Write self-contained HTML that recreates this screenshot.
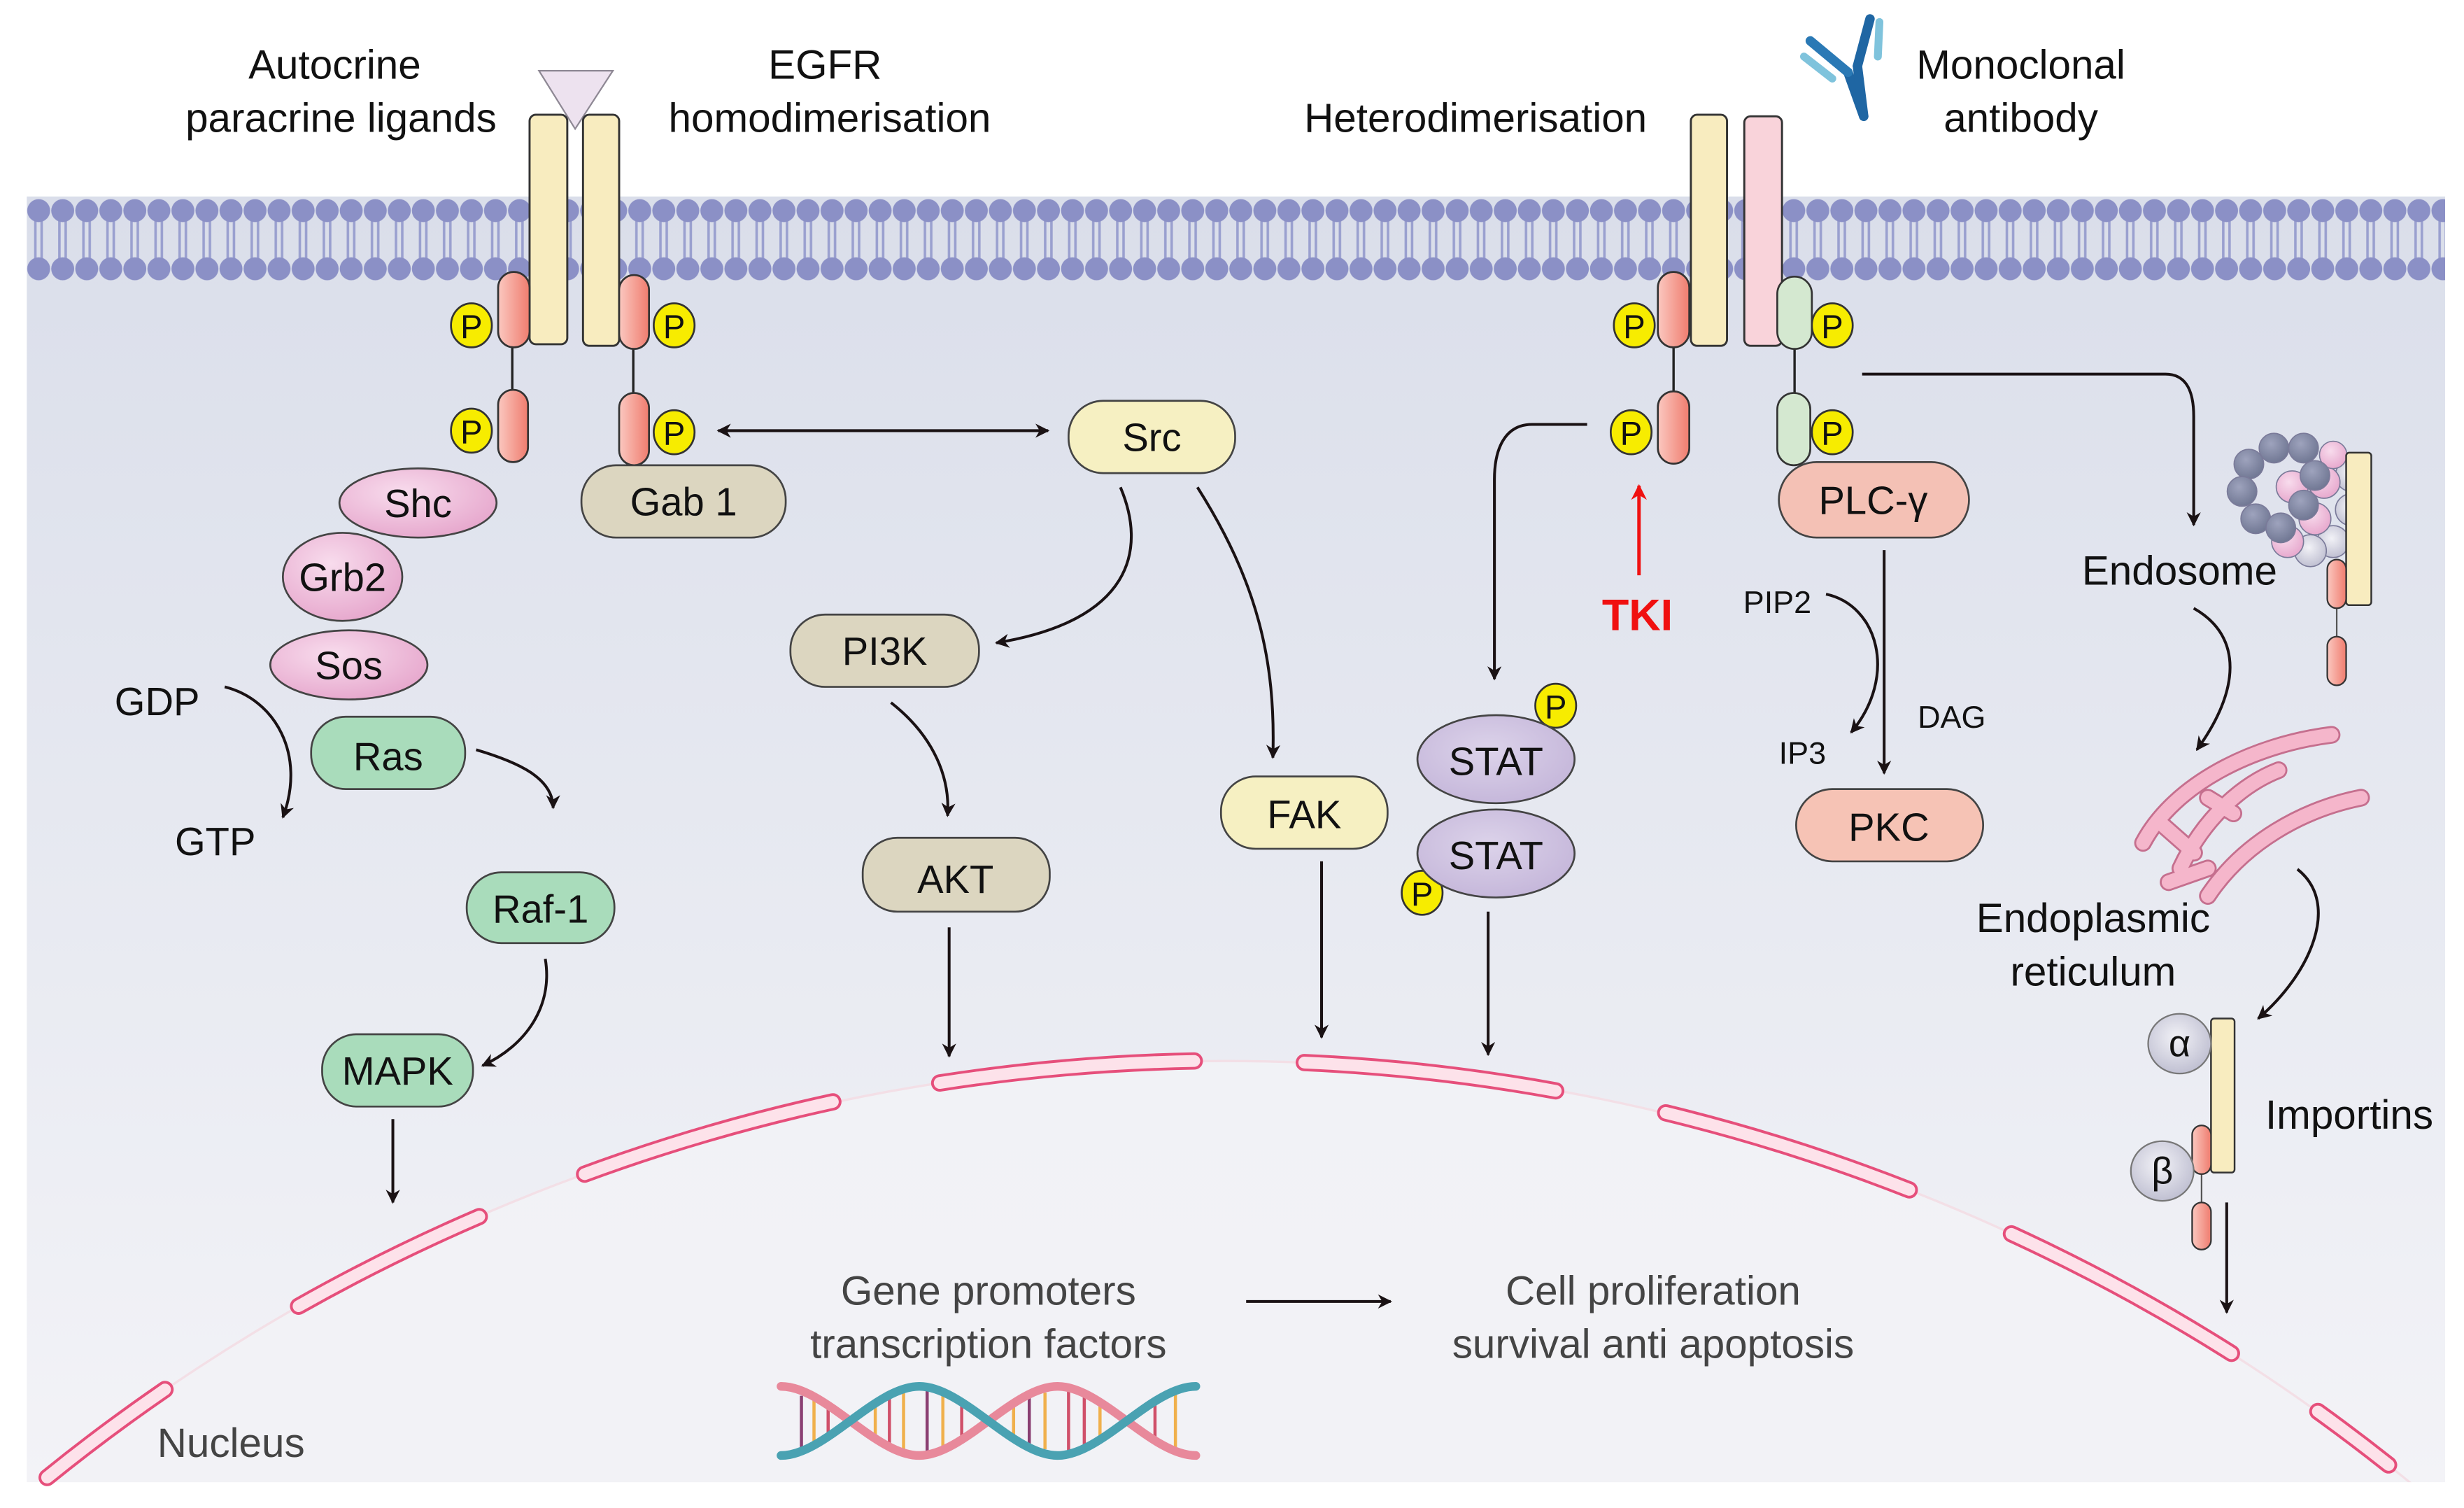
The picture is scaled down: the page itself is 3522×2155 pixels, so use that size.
<!DOCTYPE html>
<html><head><meta charset="utf-8"><style>
html,body{margin:0;padding:0;background:#fff;overflow:hidden;width:3522px;height:2155px;}
svg{display:block;}
text{font-family:"Liberation Sans",Arial,sans-serif;}
</style></head><body>
<svg width="3522" height="2155" viewBox="0 0 1568 959.4" preserveAspectRatio="none" xmlns="http://www.w3.org/2000/svg">
<defs>
<linearGradient id="cell" x1="0" y1="0" x2="0" y2="1">
<stop offset="0" stop-color="#dadeea"/><stop offset="0.6" stop-color="#e9ebf2"/><stop offset="1" stop-color="#f3f3f7"/></linearGradient>
<linearGradient id="nuc" x1="0" y1="0" x2="0" y2="1">
<stop offset="0" stop-color="#f1f2f6"/><stop offset="1" stop-color="#fcf3f7"/></linearGradient>
<linearGradient id="red" x1="0" y1="0" x2="1" y2="0">
<stop offset="0" stop-color="#fbc8c0"/><stop offset="1" stop-color="#ef7c6e"/></linearGradient>
<radialGradient id="pinkball" cx="0.4" cy="0.35" r="0.7">
<stop offset="0" stop-color="#f8dced"/><stop offset="1" stop-color="#e6a6cc"/></radialGradient>
<radialGradient id="stat" cx="0.45" cy="0.4" r="0.7">
<stop offset="0" stop-color="#dcd3ea"/><stop offset="1" stop-color="#c2b3d8"/></radialGradient>
<radialGradient id="imp" cx="0.45" cy="0.4" r="0.7">
<stop offset="0" stop-color="#f2f2f7"/><stop offset="1" stop-color="#b8b8cc"/></radialGradient>
<radialGradient id="gball" cx="0.4" cy="0.35" r="0.7">
<stop offset="0" stop-color="#9ea3bd"/><stop offset="1" stop-color="#6e7591"/></radialGradient>
<pattern id="mem" x="17" y="0" width="15.3" height="200" patternUnits="userSpaceOnUse">
<line x1="5.5" y1="140" x2="5.5" y2="166" stroke="#9aa0cf" stroke-width="1.6"/>
<line x1="9.5" y1="140" x2="9.5" y2="166" stroke="#9aa0cf" stroke-width="1.6"/>
<circle cx="7.6" cy="134" r="7.3" fill="#8b90c6"/>
<circle cx="7.6" cy="171" r="7.3" fill="#8b90c6"/>
</pattern>
<marker id="ah" viewBox="0 0 10 10" refX="9" refY="5" markerWidth="9" markerHeight="9" markerUnits="userSpaceOnUse" orient="auto">
<path d="M0,0 L10,5 L0,10 L3,5 Z" fill="#1a1214"/></marker>
<marker id="ahs" viewBox="0 0 10 10" refX="1" refY="5" markerWidth="9" markerHeight="9" markerUnits="userSpaceOnUse" orient="auto">
<path d="M10,0 L0,5 L10,10 L7,5 Z" fill="#1a1214"/></marker>
<marker id="ahr" viewBox="0 0 10 10" refX="9" refY="5" markerWidth="10" markerHeight="10" markerUnits="userSpaceOnUse" orient="auto">
<path d="M0,0 L10,5 L0,10 L3,5 Z" fill="#f01010"/></marker>
</defs>

<rect x="17" y="125" width="1539" height="818" fill="url(#cell)"/>
<rect x="17" y="122" width="1539" height="58" fill="url(#mem)"/>
<circle cx="780" cy="1868" r="1193" fill="url(#nuc)" stroke="#f3dfe6" stroke-width="1.5"/>
<rect x="0" y="943" width="1568" height="20" fill="#fff"/>
<rect x="0" y="0" width="17" height="960" fill="#fff"/>
<rect x="1556" y="0" width="12" height="960" fill="#fff"/>
<g fill="none" stroke-linecap="round">
<g stroke="#e64f7b" stroke-width="11">
<path d="M30 940 A1193 1193 0 0 1 105 884"/>
<path d="M190 831 A1193 1193 0 0 1 305 774"/>
<path d="M372 747 A1193 1193 0 0 1 530 701"/>
<path d="M598 689 A1193 1193 0 0 1 760 675"/>
<path d="M830 676 A1193 1193 0 0 1 990 694"/>
<path d="M1060 708 A1193 1193 0 0 1 1215 757"/>
<path d="M1280 785 A1193 1193 0 0 1 1420 861"/>
<path d="M1475 898 A1193 1193 0 0 1 1520 932"/>
</g>
<g stroke="#fde2ea" stroke-width="7.5">
<path d="M30 940 A1193 1193 0 0 1 105 884"/>
<path d="M190 831 A1193 1193 0 0 1 305 774"/>
<path d="M372 747 A1193 1193 0 0 1 530 701"/>
<path d="M598 689 A1193 1193 0 0 1 760 675"/>
<path d="M830 676 A1193 1193 0 0 1 990 694"/>
<path d="M1060 708 A1193 1193 0 0 1 1215 757"/>
<path d="M1280 785 A1193 1193 0 0 1 1420 861"/>
<path d="M1475 898 A1193 1193 0 0 1 1520 932"/>
</g></g>

<g font-size="26" fill="#111" text-anchor="middle">
<text x="213" y="50">Autocrine</text>
<text x="217" y="84">paracrine ligands</text>
<text x="525" y="50">EGFR</text>
<text x="528" y="84">homodimerisation</text>
<text x="939" y="84">Heterodimerisation</text>
<text x="1286" y="50">Monoclonal</text>
<text x="1286" y="84">antibody</text>
</g>

<!-- antibody -->
<g stroke-linecap="round">
<line x1="1186" y1="74" x2="1176" y2="46" stroke="#1f66a3" stroke-width="6"/>
<line x1="1176" y1="46" x2="1152" y2="26" stroke="#2a79b5" stroke-width="6"/>
<line x1="1186" y1="74" x2="1182" y2="42" stroke="#1f66a3" stroke-width="6"/>
<line x1="1182" y1="42" x2="1190" y2="12" stroke="#1f66a3" stroke-width="6"/>
<line x1="1166" y1="50" x2="1148" y2="36" stroke="#7fc3dc" stroke-width="5"/>
<line x1="1195" y1="36" x2="1196" y2="14" stroke="#7fc3dc" stroke-width="5"/>
</g>

<polygon points="343,45 390,45 366,82" fill="#ede2ef" stroke="#8e8894" stroke-width="1"/>
<rect x="337" y="73" width="24" height="146" rx="4" fill="#f8ecbf" stroke="#333" stroke-width="1.3"/>
<rect x="371" y="73" width="23" height="147" rx="4" fill="#f8ecbf" stroke="#333" stroke-width="1.3"/>
<line x1="326" y1="220" x2="326" y2="250" stroke="#222" stroke-width="1.5"/>
<line x1="403" y1="222" x2="403" y2="252" stroke="#222" stroke-width="1.5"/>
<rect x="317" y="173" width="20" height="48" rx="10" fill="url(#red)" stroke="#333" stroke-width="1.2"/>
<rect x="317" y="248" width="19" height="46" rx="9.5" fill="url(#red)" stroke="#333" stroke-width="1.2"/>
<rect x="394" y="175" width="19" height="47" rx="9.5" fill="url(#red)" stroke="#333" stroke-width="1.2"/>
<rect x="394" y="250" width="19" height="46" rx="9.5" fill="url(#red)" stroke="#333" stroke-width="1.2"/>

<rect x="1076" y="73" width="23" height="147" rx="4" fill="#f8ecbf" stroke="#333" stroke-width="1.3"/>
<rect x="1110" y="74" width="24" height="146" rx="4" fill="#f9d3da" stroke="#333" stroke-width="1.3"/>
<line x1="1065" y1="220" x2="1065" y2="250" stroke="#222" stroke-width="1.5"/>
<line x1="1142" y1="222" x2="1142" y2="252" stroke="#222" stroke-width="1.5"/>
<rect x="1055" y="173" width="20" height="48" rx="10" fill="url(#red)" stroke="#333" stroke-width="1.2"/>
<rect x="1055" y="249" width="20" height="46" rx="10" fill="url(#red)" stroke="#333" stroke-width="1.2"/>
<rect x="1131" y="176" width="22" height="46" rx="11" fill="#d4e8d0" stroke="#333" stroke-width="1.2"/>
<rect x="1131" y="250" width="21" height="46" rx="10.5" fill="#d4e8d0" stroke="#333" stroke-width="1.2"/>

<g fill="#f7ec00" stroke="#333" stroke-width="1.2">
<ellipse cx="300" cy="207" rx="13" ry="14"/><ellipse cx="300" cy="274" rx="13" ry="14"/>
<ellipse cx="429" cy="207" rx="13" ry="14"/><ellipse cx="429" cy="275" rx="13" ry="14"/>
<ellipse cx="1040" cy="207" rx="13" ry="14"/><ellipse cx="1038" cy="275" rx="13" ry="14"/>
<ellipse cx="1166" cy="207" rx="13" ry="14"/><ellipse cx="1166" cy="275" rx="13" ry="14"/>
<ellipse cx="990" cy="449" rx="13" ry="14"/><ellipse cx="905" cy="568" rx="13" ry="14"/>
</g>
<g font-size="21" fill="#111" text-anchor="middle">
<text x="300" y="215">P</text><text x="300" y="282">P</text>
<text x="429" y="215">P</text><text x="429" y="283">P</text>
<text x="1040" y="215">P</text><text x="1038" y="283">P</text>
<text x="1166" y="215">P</text><text x="1166" y="283">P</text>
<text x="990" y="457">P</text><text x="905" y="576">P</text>
</g>

<g stroke="#444" stroke-width="1.2">
<rect x="370" y="296" width="130" height="46" rx="22" fill="#dcd6c0"/>
<rect x="680" y="255" width="106" height="46" rx="22" fill="#f6f0c2"/>
<ellipse cx="266" cy="320" rx="50" ry="22" fill="url(#pinkball)"/>
<ellipse cx="218" cy="367" rx="38" ry="28" fill="url(#pinkball)"/>
<ellipse cx="222" cy="423" rx="50" ry="22" fill="url(#pinkball)"/>
<rect x="198" y="456" width="98" height="46" rx="22" fill="#a9dcbb"/>
<rect x="297" y="555" width="94" height="45" rx="22" fill="#a9dcbb"/>
<rect x="205" y="658" width="96" height="46" rx="22" fill="#a9dcbb"/>
<rect x="503" y="391" width="120" height="46" rx="22" fill="#dcd6c0"/>
<rect x="549" y="533" width="119" height="47" rx="22" fill="#dcd6c0"/>
<rect x="777" y="494" width="106" height="46" rx="22" fill="#f6f0c2"/>
<ellipse cx="952" cy="483" rx="50" ry="28" fill="url(#stat)"/>
<ellipse cx="952" cy="543" rx="50" ry="28" fill="url(#stat)"/>
<rect x="1132" y="294" width="121" height="48" rx="24" fill="#f4c1b5"/>
<rect x="1143" y="502" width="119" height="46" rx="23" fill="#f6c3b5"/>
</g>
<g font-size="25" fill="#111" text-anchor="middle">
<text x="435" y="328">Gab 1</text>
<text x="733" y="287">Src</text>
<text x="266" y="329">Shc</text>
<text x="218" y="376">Grb2</text>
<text x="222" y="432">Sos</text>
<text x="247" y="490">Ras</text>
<text x="344" y="587">Raf-1</text>
<text x="253" y="690">MAPK</text>
<text x="563" y="423">PI3K</text>
<text x="608" y="568">AKT</text>
<text x="830" y="527">FAK</text>
<text x="952" y="493">STAT</text>
<text x="952" y="553">STAT</text>
<text x="1192" y="327">PLC-γ</text>
<text x="1202" y="535">PKC</text>
<text x="100" y="455">GDP</text>
<text x="137" y="544">GTP</text>
</g>
<g font-size="20" fill="#111" text-anchor="middle">
<text x="1131" y="390">PIP2</text>
<text x="1147" y="486">IP3</text>
<text x="1242" y="463">DAG</text>
</g>
<text x="1042" y="401" font-size="28" font-weight="bold" fill="#f01010" text-anchor="middle">TKI</text>

<g fill="none" stroke="#1a1214" stroke-width="1.8">
<line x1="457" y1="274" x2="667" y2="274" marker-start="url(#ahs)" marker-end="url(#ah)"/>
<path d="M143 437 C175 445 195 480 180 520" marker-end="url(#ah)"/>
<path d="M303 477 C330 485 352 495 352 514" marker-end="url(#ah)"/>
<path d="M347 610 C352 640 335 665 307 678" marker-end="url(#ah)"/>
<line x1="250" y1="712" x2="250" y2="765" marker-end="url(#ah)"/>
<path d="M713 310 C730 350 720 395 634 409" marker-end="url(#ah)"/>
<path d="M567 447 C590 465 605 490 603 519" marker-end="url(#ah)"/>
<line x1="604" y1="590" x2="604" y2="672" marker-end="url(#ah)"/>
<path d="M762 310 C800 370 812 420 810 482" marker-end="url(#ah)"/>
<line x1="841" y1="548" x2="841" y2="660" marker-end="url(#ah)"/>
<path d="M1010 270 L975 270 C958 270 951 285 951 305 L951 432" marker-end="url(#ah)"/>
<line x1="947" y1="580" x2="947" y2="671" marker-end="url(#ah)"/>
<line x1="1199" y1="350" x2="1199" y2="492" marker-end="url(#ah)"/>
<path d="M1162 378 C1195 385 1208 430 1178 466" marker-end="url(#ah)"/>
<path d="M1185 238 L1378 238 C1392 238 1396 250 1396 265 L1396 334" marker-end="url(#ah)"/>
<path d="M1396 387 C1428 405 1425 440 1398 477" marker-end="url(#ah)"/>
<path d="M1462 553 C1490 575 1470 620 1437 648" marker-end="url(#ah)"/>
<line x1="1417" y1="765" x2="1417" y2="835" marker-end="url(#ah)"/>
<line x1="793" y1="828" x2="885" y2="828" marker-end="url(#ah)"/>
</g>
<line x1="1043" y1="366" x2="1043" y2="309" stroke="#f01010" stroke-width="2.2" marker-end="url(#ahr)"/>

<!-- endosome (scaled up) -->
<g stroke="#7a7a99" stroke-width="0.5" transform="translate(1463,317) scale(1.45) translate(-1463,-317)">
<circle cx="1478" cy="336" r="7" fill="url(#imp)"/>
<circle cx="1486" cy="322" r="7" fill="url(#imp)"/>
<circle cx="1486" cy="307" r="7" fill="url(#imp)"/>
<circle cx="1468" cy="340" r="7" fill="url(#imp)"/>
<circle cx="1470" cy="326" r="7" fill="url(#pinkball)"/>
<circle cx="1474" cy="310" r="7" fill="url(#pinkball)"/>
<circle cx="1458" cy="336" r="7" fill="url(#pinkball)"/>
<circle cx="1478" cy="298" r="6" fill="url(#pinkball)"/>
<circle cx="1460" cy="312" r="7" fill="url(#pinkball)"/>
<circle cx="1441" cy="302" r="6.5" fill="url(#gball)"/>
<circle cx="1452" cy="295" r="6.5" fill="url(#gball)"/>
<circle cx="1465" cy="295" r="6.5" fill="url(#gball)"/>
<circle cx="1470" cy="307" r="6.5" fill="url(#gball)"/>
<circle cx="1438" cy="314" r="6.5" fill="url(#gball)"/>
<circle cx="1444" cy="326" r="6.5" fill="url(#gball)"/>
<circle cx="1455" cy="330" r="6.5" fill="url(#gball)"/>
<circle cx="1465" cy="320" r="6.5" fill="url(#gball)"/>
</g>
<rect x="1493" y="288" width="16" height="97" rx="2" fill="#f8ecbf" stroke="#333" stroke-width="1.1"/>
<line x1="1487" y1="385" x2="1487" y2="407" stroke="#555" stroke-width="1"/>
<rect x="1481" y="356" width="12" height="31" rx="6" fill="url(#red)" stroke="#333" stroke-width="1"/>
<rect x="1481" y="405" width="12" height="31" rx="6" fill="url(#red)" stroke="#333" stroke-width="1"/>
<text x="1387" y="372" font-size="26" fill="#111" text-anchor="middle">Endosome</text>

<!-- ER (scaled) -->
<g fill="none" stroke-linecap="round" transform="translate(1430,520) scale(1.25) translate(-1432,-522)">
<g stroke="#c56f8e" stroke-width="9">
<path d="M1379 535 C1395 505 1435 485 1475 480"/>
<path d="M1398 548 C1410 522 1430 505 1448 498"/>
<path d="M1412 562 C1430 535 1460 518 1490 512"/>
<path d="M1388 525 L1405 540 M1392 555 L1412 548 M1412 512 L1425 520"/>
</g>
<g stroke="#f5b6cb" stroke-width="7">
<path d="M1379 535 C1395 505 1435 485 1475 480"/>
<path d="M1398 548 C1410 522 1430 505 1448 498"/>
<path d="M1412 562 C1430 535 1460 518 1490 512"/>
<path d="M1388 525 L1405 540 M1392 555 L1412 548 M1412 512 L1425 520"/>
</g></g>
<g font-size="26" fill="#111" text-anchor="middle">
<text x="1332" y="593">Endoplasmic</text>
<text x="1332" y="627">reticulum</text>
<text x="1495" y="718">Importins</text>
</g>

<rect x="1407" y="648" width="15" height="98" rx="2" fill="#f8ecbf" stroke="#333" stroke-width="1.1"/>
<line x1="1401" y1="745" x2="1401" y2="766" stroke="#555" stroke-width="1"/>
<rect x="1395" y="716" width="12" height="31" rx="6" fill="url(#red)" stroke="#333" stroke-width="1"/>
<rect x="1395" y="765" width="12" height="30" rx="6" fill="url(#red)" stroke="#333" stroke-width="1"/>
<ellipse cx="1387" cy="664" rx="20" ry="19" fill="url(#imp)" stroke="#777" stroke-width="1"/>
<ellipse cx="1376" cy="745" rx="20" ry="19" fill="url(#imp)" stroke="#777" stroke-width="1"/>
<text x="1387" y="672" font-size="24" fill="#111" text-anchor="middle">α</text>
<text x="1376" y="753" font-size="24" fill="#111" text-anchor="middle">β</text>

<g font-size="26" fill="#444" text-anchor="middle">
<text x="629" y="830">Gene promoters</text>
<text x="629" y="864">transcription factors</text>
<text x="1052" y="830">Cell proliferation</text>
<text x="1052" y="864">survival anti apoptosis</text>
<text x="147" y="927">Nucleus</text>
</g>

<g stroke-width="2">
<line x1="510" y1="888" x2="510" y2="922" stroke="#8a3f72"/>
<line x1="518" y1="890" x2="518" y2="920" stroke="#f0b04c"/>
<line x1="527" y1="893" x2="527" y2="916" stroke="#d0506a"/>
<line x1="557" y1="893" x2="557" y2="916" stroke="#f0b04c"/>
<line x1="566" y1="888" x2="566" y2="920" stroke="#d0506a"/>
<line x1="575" y1="886" x2="575" y2="922" stroke="#f0b04c"/>
<line x1="590" y1="885" x2="590" y2="923" stroke="#8a3f72"/>
<line x1="600" y1="886" x2="600" y2="922" stroke="#f0b04c"/>
<line x1="612" y1="890" x2="612" y2="918" stroke="#d0506a"/>
<line x1="645" y1="893" x2="645" y2="916" stroke="#f0b04c"/>
<line x1="655" y1="888" x2="655" y2="920" stroke="#8a3f72"/>
<line x1="665" y1="886" x2="665" y2="922" stroke="#f0b04c"/>
<line x1="680" y1="885" x2="680" y2="923" stroke="#d0506a"/>
<line x1="690" y1="886" x2="690" y2="922" stroke="#d0506a"/>
<line x1="700" y1="890" x2="700" y2="918" stroke="#f0b04c"/>
<line x1="735" y1="890" x2="735" y2="918" stroke="#d0506a"/>
<line x1="748" y1="886" x2="748" y2="922" stroke="#f0b04c"/>
</g>
<g fill="none" stroke-width="5.5" stroke-linecap="round">
<path d="M497 882 C525 882 557 926 585 926 C613 926 645 882 673 882 C701 882 733 926 761 926" stroke="#e8899b"/>
<path d="M497 926 C525 926 557 882 585 882 C613 882 645 926 673 926 C701 926 733 882 761 882" stroke="#4aa2b2"/>
</g>
</svg>
</body></html>
